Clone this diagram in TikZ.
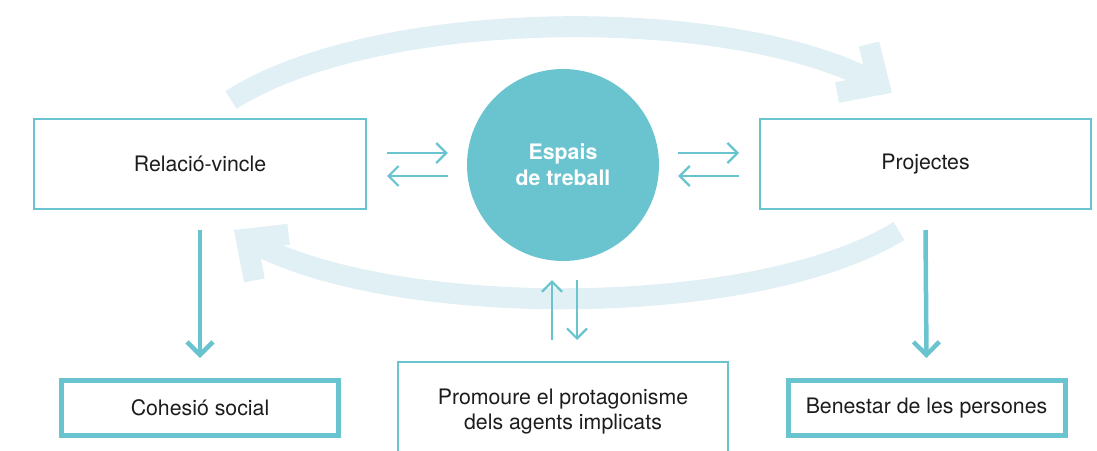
\documentclass[tikz,border=0pt]{standalone}
\usepackage{fontspec}
\setmainfont{TeX Gyre Heros}
\usetikzlibrary{arrows.meta}
\definecolor{aigua}{HTML}{6AC4CF}
\definecolor{palid}{HTML}{E1F0F4}
\definecolor{tinta}{HTML}{1C1C1C}
\begin{document}
\begin{tikzpicture}[x=1pt,y=-1pt,
  caixa/.style={draw=aigua,line width=2pt,text=tinta,align=center,
    font=\fontsize{21.3}{24.5}\selectfont},
  resultat/.style={caixa,line width=5pt,minimum width=277pt,minimum height=55pt},
  fletxa/.style={aigua,line width=2.2pt,-{Straight Barb[length=10pt,width=20pt]}},
  gran/.style={aigua,line width=4.5pt,-{Straight Barb[length=13pt,width=26pt]}},
  cicle/.style={palid,line width=21pt,line join=miter}]
  \clip (0,0) rectangle (1097,450);
  % cicle de fons
  \draw[cicle] (231,100) .. controls (380,5) and (740,5) .. (879,84.5);
  \draw[cicle] (869,44) -- (879,84.5) -- (837,92.5);
  \draw[cicle] (899,231) .. controls (750,322) and (380,318) .. (246.4,239.1);
  \draw[cicle] (288.6,234.3) -- (246.4,239.1) -- (254.4,280.5);
  % nodes
  \node[caixa,minimum width=332pt,minimum height=90pt] (relacio) at (200,164) {Relació-vincle};
  \node[caixa,minimum width=331pt,minimum height=90pt] (projectes) at (925.5,164) {Projectes};
  \node[circle,fill=aigua,minimum size=192pt,text=white,align=center,
    font=\bfseries\fontsize{21.3}{26}\selectfont] (espais) at (563,165) {Espais\\de treball};
  \node[resultat] (cohesio) at (200,408) {Cohesió social};
  \node[resultat] (benestar) at (926.5,408) {Benestar de les persones};
  \node[caixa,minimum width=330pt,minimum height=110pt,text depth=16pt] (promoure) at (563,417)
    {Promoure el protagonisme\\dels agents implicats};
  % fletxes
  \draw[fletxa] ([xshift=20pt,yshift=11pt]relacio.east) -- ([xshift=-19pt,yshift=12pt]espais.west);
  \draw[fletxa] ([xshift=-19pt,yshift=-11pt]espais.west) -- ([xshift=20pt,yshift=-12pt]relacio.east);
  \draw[fletxa] ([xshift=19pt,yshift=12pt]espais.east) -- ([xshift=-20pt,yshift=11pt]projectes.west);
  \draw[fletxa] ([xshift=-20pt,yshift=-12pt]projectes.west) -- ([xshift=19pt,yshift=-11pt]espais.east);
  \draw[fletxa] ([xshift=-11pt,yshift=21pt]promoure.north) -- ([xshift=-11pt,yshift=-19pt]espais.south);
  \draw[fletxa] ([xshift=14pt,yshift=-19pt]espais.south) -- ([xshift=14pt,yshift=21pt]promoure.north);
  \draw[gran] ([yshift=-20pt]relacio.south) -- ([yshift=20pt]cohesio.north);
  \draw[gran] ([yshift=-20pt]projectes.south) -- ([yshift=20pt]benestar.north);
\end{tikzpicture}
\end{document}
